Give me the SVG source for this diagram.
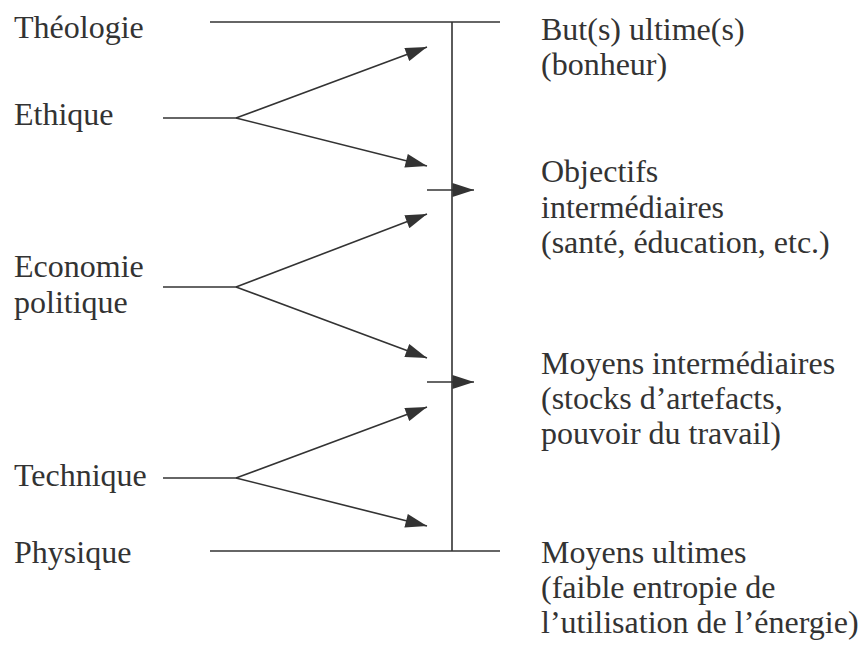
<svg xmlns="http://www.w3.org/2000/svg" width="863" height="646" viewBox="0 0 863 646">
<style>
.ln{stroke:#333;stroke-width:1.6;fill:none}
.ar{stroke:#333;stroke-width:1.6;fill:none;marker-end:url(#ah)}
</style>
<defs>
<marker id="ah" markerUnits="userSpaceOnUse" markerWidth="22" markerHeight="14" refX="20" refY="6.5" orient="auto" viewBox="0 0 20 13">
<path d="M0,0 L20,6.5 L0,13 z" fill="#333"/>
</marker>
</defs>
<rect width="863" height="646" fill="#fff"/>
<g id="left-labels" fill="#333">
<g id="n-theologie"><text x="14" y="38" font-family="Liberation Serif" font-size="32">Théologie</text></g>
<g id="n-ethique"><text x="14" y="125" font-family="Liberation Serif" font-size="32">Ethique</text></g>
<g id="n-economie"><text x="14" y="277" font-family="Liberation Serif" font-size="32">Economie</text><text x="14" y="313" font-family="Liberation Serif" font-size="32">politique</text></g>
<g id="n-technique"><text x="14" y="486" font-family="Liberation Serif" font-size="32">Technique</text></g>
<g id="n-physique"><text x="14" y="563" font-family="Liberation Serif" font-size="32">Physique</text></g>
</g>
<g id="right-labels" fill="#333">
<g id="n-buts"><text x="541" y="40" font-family="Liberation Serif" font-size="32">But(s) ultime(s)</text><text x="541" y="75" font-family="Liberation Serif" font-size="32">(bonheur)</text></g>
<g id="n-objectifs"><text x="541" y="182" font-family="Liberation Serif" font-size="32">Objectifs</text><text x="541" y="218" font-family="Liberation Serif" font-size="32">intermédiaires</text><text x="541" y="253" font-family="Liberation Serif" font-size="32">(santé, éducation, etc.)</text></g>
<g id="n-moyensint"><text x="541" y="374" font-family="Liberation Serif" font-size="32">Moyens intermédiaires</text><text x="541" y="409" font-family="Liberation Serif" font-size="32">(stocks d’artefacts,</text><text x="541" y="444" font-family="Liberation Serif" font-size="32">pouvoir du travail)</text></g>
<g id="n-moyensult"><text x="541" y="563" font-family="Liberation Serif" font-size="32">Moyens ultimes</text><text x="541" y="598" font-family="Liberation Serif" font-size="32">(faible entropie de</text><text x="541" y="633" font-family="Liberation Serif" font-size="32">l’utilisation de l’énergie)</text></g>
</g>
<g id="connectors">
<line class="ln" x1="210" y1="22" x2="500" y2="22"/>
<line class="ln" x1="210" y1="551" x2="500" y2="551"/>
<line class="ln" x1="452" y1="22" x2="452" y2="551"/>
<line class="ln" x1="163" y1="118" x2="236" y2="118"/>
<line class="ar" x1="236" y1="118" x2="427" y2="47"/>
<line class="ar" x1="236" y1="118" x2="427" y2="166"/>
<line class="ln" x1="163" y1="287" x2="236" y2="287"/>
<line class="ar" x1="236" y1="287" x2="427" y2="214"/>
<line class="ar" x1="236" y1="287" x2="427" y2="358"/>
<line class="ln" x1="163" y1="478" x2="236" y2="478"/>
<line class="ar" x1="236" y1="478" x2="427" y2="407"/>
<line class="ar" x1="236" y1="478" x2="427" y2="526"/>
<line class="ar" x1="427" y1="190" x2="474" y2="190"/>
<line class="ar" x1="427" y1="382" x2="474" y2="382"/>
</g>
</svg>
